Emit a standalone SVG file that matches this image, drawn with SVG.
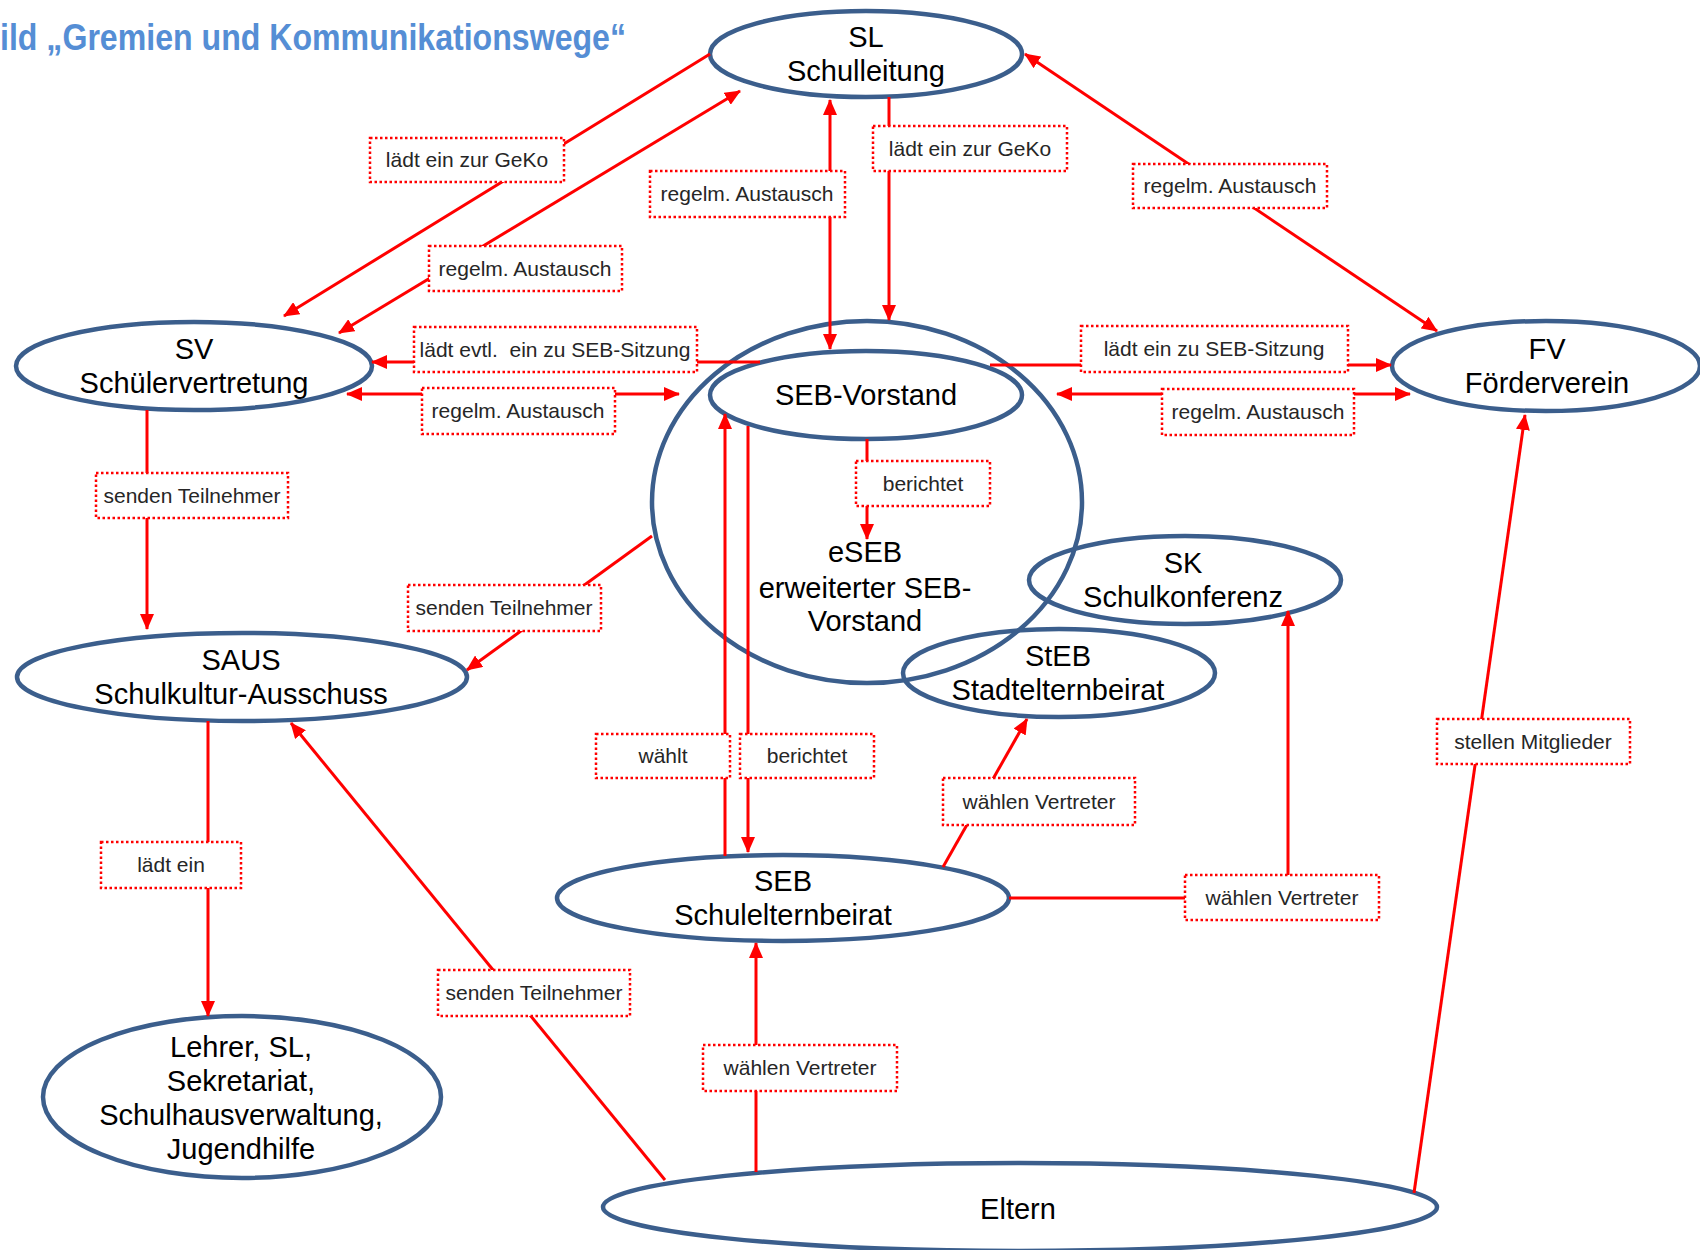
<svg xmlns="http://www.w3.org/2000/svg" width="1700" height="1250" viewBox="0 0 1700 1250">
<style>
.node{fill:none;stroke:#3B5E8C;stroke-width:4.5}
.nt{font-family:"Liberation Sans",Arial,sans-serif;font-size:29px;fill:#000;text-anchor:middle}
.c{fill:none;stroke:#FF0000;stroke-width:3}
.lb{fill:#fff;stroke:#FF0000;stroke-width:2.5;stroke-dasharray:2.5 2.5}
.lt{font-family:"Liberation Sans",Arial,sans-serif;font-size:21px;fill:#262626;text-anchor:middle;white-space:pre}
.title{font-family:"Liberation Sans",Arial,sans-serif;font-weight:bold;font-size:36px;fill:#558ED5}
</style>
<defs>
<marker id="ah" markerUnits="userSpaceOnUse" markerWidth="16" markerHeight="14" viewBox="0 0 16 14" refX="15" refY="7" orient="auto-start-reverse">
<path d="M0,0 L16,7 L0,14 z" fill="#FF0000"/>
</marker>
</defs>
<rect width="1700" height="1250" fill="#fff"/>
<text class="title" x="0" y="50" textLength="626" lengthAdjust="spacingAndGlyphs">ild „Gremien und Kommunikationswege“</text>

<g id="nodes">
<g id="SL"><ellipse class="node" cx="866" cy="54" rx="156" ry="43"/><text class="nt" x="866" y="47">SL</text><text class="nt" x="866" y="81">Schulleitung</text></g>
<g id="eSEB"><ellipse class="node" cx="867" cy="502" rx="215" ry="181"/><text class="nt" x="865" y="562">eSEB</text><text class="nt" x="865" y="598">erweiterter SEB-</text><text class="nt" x="865" y="631">Vorstand</text></g>
<g id="SEBV"><ellipse class="node" cx="866" cy="395" rx="156" ry="44"/><text class="nt" x="866" y="405">SEB-Vorstand</text></g>
<g id="SV"><ellipse class="node" cx="194" cy="366" rx="178" ry="44"/><text class="nt" x="194" y="359">SV</text><text class="nt" x="194" y="393">Schülervertretung</text></g>
<g id="FV"><ellipse class="node" cx="1546" cy="366" rx="154" ry="45"/><text class="nt" x="1547" y="359">FV</text><text class="nt" x="1547" y="393">Förderverein</text></g>
<g id="SAUS"><ellipse class="node" cx="242" cy="677" rx="225" ry="44"/><text class="nt" x="241" y="670">SAUS</text><text class="nt" x="241" y="704">Schulkultur-Ausschuss</text></g>
<g id="Lehrer"><ellipse class="node" cx="242" cy="1097" rx="199" ry="81"/><text class="nt" x="241" y="1057">Lehrer, SL,</text><text class="nt" x="241" y="1091">Sekretariat,</text><text class="nt" x="241" y="1125">Schulhausverwaltung,</text><text class="nt" x="241" y="1159">Jugendhilfe</text></g>
<g id="SK"><ellipse class="node" cx="1185" cy="580" rx="156" ry="44"/><text class="nt" x="1183" y="573">SK</text><text class="nt" x="1183" y="607">Schulkonferenz</text></g>
<g id="StEB"><ellipse class="node" cx="1059" cy="673" rx="156" ry="44"/><text class="nt" x="1058" y="666">StEB</text><text class="nt" x="1058" y="700">Stadtelternbeirat</text></g>
<g id="SEB"><ellipse class="node" cx="783" cy="898" rx="226" ry="43"/><text class="nt" x="783" y="891">SEB</text><text class="nt" x="783" y="925">Schulelternbeirat</text></g>
<g id="Eltern"><ellipse class="node" cx="1020" cy="1207" rx="417" ry="44"/><text class="nt" x="1018" y="1219">Eltern</text></g>
</g>

<g id="connectors">
<line class="c" x1="710" y1="54" x2="284" y2="316" marker-end="url(#ah)"/>
<line class="c" x1="740" y1="91" x2="339" y2="333" marker-start="url(#ah)" marker-end="url(#ah)"/>
<line class="c" x1="830" y1="100" x2="830" y2="349" marker-start="url(#ah)" marker-end="url(#ah)"/>
<line class="c" x1="889" y1="97" x2="889" y2="320" marker-end="url(#ah)"/>
<line class="c" x1="1025" y1="54" x2="1437" y2="331" marker-start="url(#ah)" marker-end="url(#ah)"/>
<line class="c" x1="760" y1="362" x2="372" y2="362" marker-end="url(#ah)"/>
<line class="c" x1="347" y1="394" x2="679" y2="394" marker-start="url(#ah)" marker-end="url(#ah)"/>
<line class="c" x1="990" y1="365" x2="1391" y2="365" marker-end="url(#ah)"/>
<line class="c" x1="1057" y1="394" x2="1410" y2="394" marker-start="url(#ah)" marker-end="url(#ah)"/>
<line class="c" x1="147" y1="410" x2="147" y2="629" marker-end="url(#ah)"/>
<line class="c" x1="867" y1="439" x2="867" y2="539" marker-end="url(#ah)"/>
<line class="c" x1="652" y1="536" x2="467" y2="670" marker-end="url(#ah)"/>
<line class="c" x1="725" y1="856" x2="725" y2="414" marker-end="url(#ah)"/>
<line class="c" x1="748" y1="426" x2="748" y2="852" marker-end="url(#ah)"/>
<line class="c" x1="943" y1="867" x2="1027" y2="719" marker-end="url(#ah)"/>
<polyline class="c" points="1009,898 1288,898 1288,611" marker-end="url(#ah)"/>
<line class="c" x1="1414" y1="1193" x2="1525" y2="415" marker-end="url(#ah)"/>
<line class="c" x1="208" y1="721" x2="208" y2="1016" marker-end="url(#ah)"/>
<line class="c" x1="665" y1="1180" x2="291" y2="723" marker-end="url(#ah)"/>
<line class="c" x1="756" y1="1172" x2="756" y2="943" marker-end="url(#ah)"/>

<g id="labels">
<rect class="lb" x="370" y="138" width="194" height="44"/><text class="lt" x="467" y="167">lädt ein zur GeKo</text>
<rect class="lb" x="429" y="246" width="193" height="45"/><text class="lt" x="525" y="276">regelm. Austausch</text>
<rect class="lb" x="650" y="171" width="195" height="46"/><text class="lt" x="747" y="201">regelm. Austausch</text>
<rect class="lb" x="873" y="126" width="194" height="45"/><text class="lt" x="970" y="156">lädt ein zur GeKo</text>
<rect class="lb" x="1133" y="164" width="194" height="44"/><text class="lt" x="1230" y="193">regelm. Austausch</text>
<rect class="lb" x="414" y="327" width="283" height="45"/><text class="lt" x="555" y="357" xml:space="preserve">lädt evtl.  ein zu SEB-Sitzung</text>
<rect class="lb" x="422" y="388" width="193" height="46"/><text class="lt" x="518" y="418">regelm. Austausch</text>
<rect class="lb" x="1081" y="326" width="267" height="46"/><text class="lt" x="1214" y="356">lädt ein zu SEB-Sitzung</text>
<rect class="lb" x="1162" y="389" width="192" height="46"/><text class="lt" x="1258" y="419">regelm. Austausch</text>
<rect class="lb" x="96" y="473" width="192" height="45"/><text class="lt" x="192" y="503">senden Teilnehmer</text>
<rect class="lb" x="856" y="461" width="134" height="45"/><text class="lt" x="923" y="491">berichtet</text>
<rect class="lb" x="408" y="585" width="193" height="46"/><text class="lt" x="504" y="615">senden Teilnehmer</text>
<rect class="lb" x="596" y="734" width="134" height="44"/><text class="lt" x="663" y="763">wählt</text>
<rect class="lb" x="740" y="734" width="134" height="44"/><text class="lt" x="807" y="763">berichtet</text>
<rect class="lb" x="943" y="778" width="192" height="47"/><text class="lt" x="1039" y="809">wählen Vertreter</text>
<rect class="lb" x="1437" y="719" width="193" height="45"/><text class="lt" x="1533" y="749">stellen Mitglieder</text>
<rect class="lb" x="101" y="842" width="140" height="46"/><text class="lt" x="171" y="872">lädt ein</text>
<rect class="lb" x="1185" y="875" width="194" height="45"/><text class="lt" x="1282" y="905">wählen Vertreter</text>
<rect class="lb" x="438" y="970" width="192" height="46"/><text class="lt" x="534" y="1000">senden Teilnehmer</text>
<rect class="lb" x="703" y="1045" width="194" height="46"/><text class="lt" x="800" y="1075">wählen Vertreter</text>
</g>
</g>
</svg>
